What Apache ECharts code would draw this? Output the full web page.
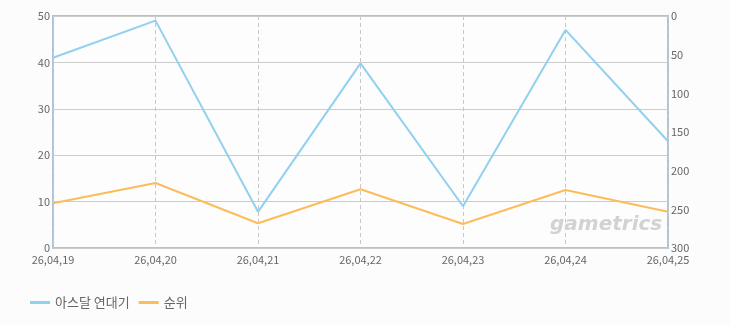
<!DOCTYPE html>
<html><head><meta charset="utf-8">
<script src="https://cdn.jsdelivr.net/npm/echarts@6/dist/echarts.min.js"></script>
<style>html,body{margin:0;padding:0;background:#fcfcfc;}#c{width:730px;height:325px;}</style>
</head><body><div id="c"></div>
<script>
var categories = ['26,04,19','26,04,20','26,04,21','26,04,22','26,04,23','26,04,24','26,04,25'];
var gameValues = [41, 49, 7.8, 39.8, 9, 47, 23];
var rankValues = [242, 216, 268, 224, 269, 225, 253];
var leftTicks = {min:0, max:50, interval:10};
var rightTicks = {min:0, max:300, interval:50};
var seriesNames = ['아스달 연대기', '순위'];

var chart = echarts.init(document.getElementById('c'));
var font = '"Noto Sans CJK KR", "DejaVu Sans", sans-serif';
chart.setOption({
  backgroundColor: '#fcfcfc',
  animation: false,
  grid: {left: 53, right: 62, top: 16, bottom: 77, show: true, borderColor: '#afc3d8', borderWidth: 2, backgroundColor: '#fdfdfd'},
  legend: {
    left: 25, top: 291, itemWidth: 20, itemHeight: 3, itemGap: 9,
    textStyle: {color: '#666', fontSize: 13, fontFamily: font},
    data: [{name: seriesNames[0], icon: 'rect'}, {name: seriesNames[1], icon: 'rect'}]
  },
  xAxis: {
    type: 'category', data: categories, boundaryGap: false,
    axisLine: {show: false}, axisTick: {show: false},
    axisLabel: {color: '#666', fontSize: 11, fontFamily: font, margin: 6},
    splitLine: {show: true, lineStyle: {color: '#c8c8c8', type: [4, 3], width: 1}}
  },
  yAxis: [{
    type: 'value', min: leftTicks.min, max: leftTicks.max, interval: leftTicks.interval,
    axisLine: {show: false}, axisTick: {show: false},
    axisLabel: {color: '#666', fontSize: 11, fontFamily: font, margin: 3},
    splitLine: {show: true, lineStyle: {color: '#cccccc', width: 1}}
  }, {
    type: 'value', min: rightTicks.min, max: rightTicks.max, interval: rightTicks.interval, inverse: true,
    position: 'right',
    axisLine: {show: false}, axisTick: {show: false},
    axisLabel: {color: '#666', fontSize: 11, fontFamily: font, margin: 3},
    splitLine: {show: false}
  }],
  graphic: [{
    type: 'text', left: 550, top: 215, z: 1,
    style: {text: 'gametrics', fill: '#d2d2d2', font: 'italic bold 20px "DejaVu Sans", sans-serif'}
  }],
  series: [{
    name: seriesNames[0], type: 'line', yAxisIndex: 0, data: gameValues,
    showSymbol: false, lineStyle: {color: '#92d0f0', width: 2}, itemStyle: {color: '#92d0f0'}, z: 3
  }, {
    name: seriesNames[1], type: 'line', yAxisIndex: 1, data: rankValues,
    showSymbol: false, lineStyle: {color: '#fbbd5c', width: 2}, itemStyle: {color: '#fbbd5c'}, z: 3
  }]
});
</script></body></html>
